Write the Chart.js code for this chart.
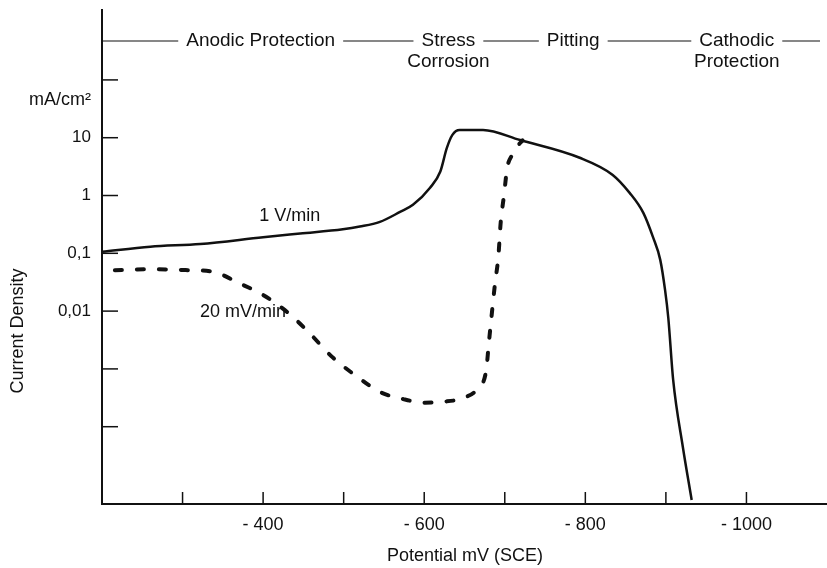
<!DOCTYPE html>
<html>
<head>
<meta charset="utf-8">
<script src="https://cdn.jsdelivr.net/npm/chart.js@4"></script>
<style>
  html, body { margin: 0; padding: 0; background: #fff; }
  #wrap { width: 827px; height: 568px; }
</style>
</head>
<body>
<div id="wrap"><canvas id="chart" width="827" height="568"></canvas></div>
<script>
// Data (potential in -mV SCE, current density in mA/cm2)
const fastX = [200, 260, 322, 400, 446, 499, 520, 545, 570, 586, 607, 620, 628, 635, 644, 673, 719, 793, 834, 855, 872, 884, 893, 899, 903, 909, 921, 932];
const fastY = [0.106, 0.13, 0.145, 0.19, 0.22, 0.26, 0.29, 0.35, 0.52, 0.69, 1.35, 2.6, 6.6, 11.2, 13.6, 13.6, 9.1, 4.5, 2.27, 1.11, 0.5, 0.19, 0.077, 0.023, 0.0076, 0.00065, 0.000045, 0.0000054];

const slowX = [216, 260, 309, 338, 369, 400, 427, 454, 486, 517, 545, 574, 601, 623, 647, 667, 677, 680, 684, 688, 692, 695, 699, 703, 709, 715, 722];
const slowY = [0.051, 0.053, 0.051, 0.048, 0.031, 0.019, 0.0104, 0.0047, 0.0016, 0.00073, 0.0004, 0.0003, 0.00026, 0.00027, 0.00031, 0.00047, 0.00096, 0.0026, 0.0093, 0.031, 0.087, 0.35, 1.0, 3.0, 5.0, 6.9, 9.0];

// Axis ticks
const xTicks = [300, 400, 500, 600, 700, 800, 900, 1000];
const xLabels = { 400: '- 400', 600: '- 600', 800: '- 800', 1000: '- 1000' };
const yTicks = [0.0001, 0.001, 0.01, 0.1, 1, 10, 100];
const yLabels = { 0.01: '0,01', 0.1: '0,1', 1: '1', 10: '10' };

// Regions along the top, centred on a potential
const regionNames = [['Anodic Protection'], ['Stress', 'Corrosion'], ['Pitting'], ['Cathodic', 'Protection']];
const regionCentres = [397, 630, 785, 988];

// Curve labels
const curveLabels = ['1 V/min', '20 mV/min'];
const curveLabelX = [433, 375];
const curveLabelY = [0.44, 0.0098];

const FAMILY = "'Liberation Sans', Arial, sans-serif";
const FONT = '18px ' + FAMILY;
const HEAD_FONT = '19px ' + FAMILY;
const INK = '#111';

function toPoints(xs, ys) {
  return xs.map((x, i) => ({ x: x, y: ys[i] }));
}

// Inward tick marks, header, side labels
const decorPlugin = {
  id: 'decor',
  afterDraw(chart) {
    const ctx = chart.ctx;
    const xs = chart.scales.x;
    const ys = chart.scales.y;
    const area = chart.chartArea;
    ctx.save();
    ctx.strokeStyle = INK;
    ctx.fillStyle = INK;
    ctx.lineWidth = 1.5;

    // tick marks pointing into the plot
    xTicks.forEach(v => {
      const px = xs.getPixelForValue(v);
      ctx.beginPath();
      ctx.moveTo(px, area.bottom);
      ctx.lineTo(px, area.bottom - 12);
      ctx.stroke();
    });
    yTicks.forEach(v => {
      const py = ys.getPixelForValue(v);
      ctx.beginPath();
      ctx.moveTo(area.left, py);
      ctx.lineTo(area.left + 16, py);
      ctx.stroke();
    });

    ctx.textBaseline = 'middle';

    // region header with connecting rules
    ctx.font = HEAD_FONT;
    const lineY = area.top + 31;
    let prevEnd = area.left;
    regionNames.forEach((lines, i) => {
      const cx = xs.getPixelForValue(regionCentres[i]);
      const w = ctx.measureText(lines[0]).width;
      const start = cx - w / 2;
      ctx.beginPath();
      ctx.lineWidth = 1.2;
      ctx.moveTo(prevEnd, lineY);
      ctx.lineTo(start - 8, lineY);
      ctx.stroke();
      ctx.textAlign = 'center';
      lines.forEach((t, j) => ctx.fillText(t, cx, lineY + j * 21));
      prevEnd = start + w + 8;
    });
    ctx.beginPath();
    ctx.moveTo(prevEnd, lineY);
    ctx.lineTo(area.right - 7, lineY);
    ctx.stroke();

    ctx.font = FONT;

    // curve labels
    ctx.textAlign = 'center';
    curveLabels.forEach((t, i) => {
      ctx.fillText(t, xs.getPixelForValue(curveLabelX[i]), ys.getPixelForValue(curveLabelY[i]));
    });

    // unit label above the y ticks
    ctx.textAlign = 'right';
    ctx.fillText('mA/cm\u00b2', area.left - 11, ys.getPixelForValue(45));

    // y axis title
    ctx.save();
    ctx.translate(18, 331);
    ctx.rotate(-Math.PI / 2);
    ctx.textAlign = 'center';
    ctx.fillText('Current Density', 0, 0);
    ctx.restore();

    // x axis title
    ctx.textAlign = 'center';
    ctx.fillText('Potential mV (SCE)', 465, 556);
    ctx.restore();
  }
};

new Chart(document.getElementById('chart'), {
  type: 'line',
  data: {
    datasets: [
      {
        label: '1 V/min',
        data: toPoints(fastX, fastY),
        borderColor: INK,
        borderWidth: 2.5,
        pointRadius: 0,
        cubicInterpolationMode: 'monotone',
        fill: false
      },
      {
        label: '20 mV/min',
        data: toPoints(slowX, slowY),
        borderColor: INK,
        borderWidth: 4,
        borderDash: [7, 15],
        borderCapStyle: 'round',
        pointRadius: 0,
        cubicInterpolationMode: 'monotone',
        fill: false
      }
    ]
  },
  options: {
    responsive: false,
    animation: false,
    layout: { padding: { top: 10, left: 0, right: 0, bottom: 0 } },
    plugins: {
      legend: { display: false },
      tooltip: { enabled: false }
    },
    scales: {
      x: {
        type: 'linear',
        min: 200,
        max: 1100,
        afterBuildTicks: s => { s.ticks = xTicks.map(v => ({ value: v })); },
        afterFit: s => { s.height = 64; s.paddingRight = 0; s.paddingLeft = 0; },
        grid: { drawOnChartArea: false, drawTicks: false },
        border: { display: true, color: INK, width: 2 },
        ticks: {
          autoSkip: false,
          maxRotation: 0,
          padding: 10,
          color: INK,
          font: { family: FAMILY, size: 18 },
          callback: v => xLabels[v] || ''
        }
      },
      y: {
        type: 'logarithmic',
        min: 0.0000046,
        max: 1620,
        afterBuildTicks: s => { s.ticks = yTicks.map(v => ({ value: v })); },
        afterFit: s => { s.width = 102; s.paddingTop = 0; s.paddingBottom = 0; },
        grid: { drawOnChartArea: false, drawTicks: false },
        border: { display: true, color: INK, width: 2 },
        ticks: {
          autoSkip: false,
          padding: 11,
          color: INK,
          font: { family: FAMILY, size: 17 },
          callback: v => yLabels[v] || ''
        }
      }
    }
  },
  plugins: [decorPlugin]
});
</script>
</body>
</html>
